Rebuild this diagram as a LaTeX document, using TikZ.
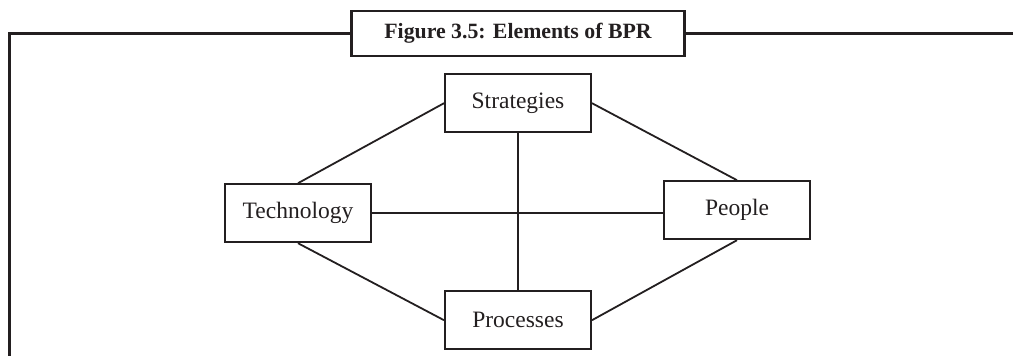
\documentclass[tikz,border=0pt]{standalone}
\usepackage{fontspec}
\setmainfont{Liberation Serif}
\usepackage{tikz}
\usetikzlibrary{positioning}
\definecolor{inkdark}{RGB}{35,31,32}

\begin{document}
\begin{tikzpicture}[
        x=1pt, y=1pt,
        element/.style={
            rectangle, draw=inkdark, line width=2pt, inner sep=0pt,
            minimum width=146pt, minimum height=58pt, text=inkdark,
            font=\fontsize{23.5}{26}\selectfont
        },
        caption/.style={
            rectangle, draw=inkdark, line width=2.4pt, inner sep=0pt,
            minimum width=333pt, minimum height=45pt, text=inkdark,
            font=\fontsize{21.8}{24}\selectfont\bfseries
        },
        link/.style={-, line width=1.8pt, color=inkdark},
        frame/.style={-, line width=2.6pt, color=inkdark}
    ]
        \useasboundingbox (0,0) rectangle (1013,-356);

        % Title and frame
        \node[caption] (title) at (518,-33.5) {Figure 3.5: Elements of BPR};
        \coordinate (fbl) at (9.5,-356);
        \coordinate (ftl) at (9.5,-33.5);
        \coordinate (ftr) at (1013,-33.5);
        \draw[frame] (fbl) -- (ftl) -- (title.west);
        \draw[frame] (title.east) -- (ftr);

        % Elements
        \node[element] (strat) [below=16pt of title] {Strategies};
        \node[element] (proc) [below=157pt of strat] {Processes};
        \node[element, anchor=north east] (tech) [below left=50pt and 72pt of strat.south west] {Technology};
        \node[element, anchor=north west] (ppl) [below right=47pt and 71pt of strat.south east] {People};

        % Connectors
        \draw[link] (strat.west) -- (tech.north);
        \draw[link] (strat.east) -- (ppl.north);
        \draw[link] (tech.east) -- (tech.east -| ppl.west);
        \draw[link] (strat.south) -- (proc.north);
        \draw[link] (tech.south) -- (proc.west);
        \draw[link] (ppl.south) -- (proc.east);

    \end{tikzpicture}
\end{document}
